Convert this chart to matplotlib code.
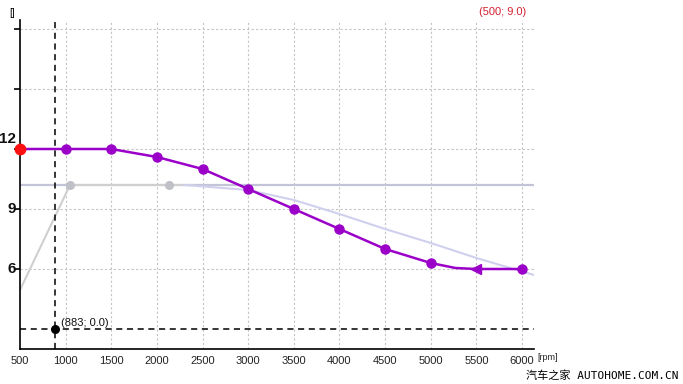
import matplotlib
matplotlib.use("Agg")
import matplotlib.pyplot as plt
from matplotlib import transforms

# courbe principale (violet)
rpm = [500, 1000, 1500, 2000, 2500, 3000, 3500, 4000, 4500, 5000, 5270, 5500, 6000]
val = [12.0, 12.0, 12.0, 11.6, 11.0, 10.0, 9.0, 8.0, 7.0, 6.3, 6.05, 6.0, 6.0]
rpm_pts = [1000, 1500, 2000, 2500, 3000, 3500, 4000, 4500, 5000, 6000]
val_pts = [12.0, 12.0, 11.6, 11.0, 10.0, 9.0, 8.0, 7.0, 6.3, 6.0]

# courbes de reference (gris / lavande)
ref_flat = 10.2
gris_rpm = [500, 1048, 2132, 2400]
gris_val = [4.95, 10.2, 10.2, 10.2]
gris_pts_rpm = [1048, 2132]
gris_pts_val = [10.2, 10.2]
lav_rpm = [2300, 3000, 3500, 4000, 4500, 5000, 5500, 6131]
lav_val = [10.2, 9.95, 9.45, 8.75, 8.0, 7.3, 6.55, 5.7]

# curseurs
cur_x, cur_y = 883, 3.0
xticks = list(range(500, 6001, 500))
yticks = [6, 9, 12]
ygrid = [6, 9, 12, 15, 18]

plt.rcParams['font.family'] = ['Liberation Sans', 'DejaVu Sans']

fig = plt.figure(figsize=(6.83, 3.84), dpi=100)
ax = fig.add_axes([20/683, 1-349/384, 514/683, 329/384])
ax.set_xlim(500, 6131)
ax.set_ylim(2, 18.45)

for s in ['top', 'right']:
    ax.spines[s].set_visible(False)
ax.spines['left'].set_linewidth(1.2)
ax.spines['bottom'].set_linewidth(1.2)

# grille pointillee
for x in xticks[1:]:
    ax.axvline(x, color='#c4c4c4', lw=0.8, ls=(0, (2, 2)), zorder=1)
for y in ygrid:
    ax.axhline(y, color='#c4c4c4', lw=0.8, ls=(0, (2, 2)), zorder=1)

ax.set_xticks(xticks)
ax.set_xticklabels([str(x) for x in xticks], fontsize=8, color='#222222')
ax.tick_params(axis='x', length=0, pad=5)
ax.set_yticks(ygrid)
ax.set_yticklabels([])
ax.tick_params(axis='y', length=4, width=1.2, direction='out')

# libelles y (12 un peu plus haut)
tr = transforms.blended_transform_factory(ax.transAxes, ax.transData)
for y in yticks:
    dy = 0.5 if y == 12 else 0.0
    ax.text(-0.008, y + dy, str(y), transform=tr, ha='right', va='center',
            fontsize=11, fontweight='bold', color='#111111')

# references
ax.axhline(ref_flat, color='#c4c4d8', lw=1.6, zorder=2)
ax.plot(gris_rpm, gris_val, color='#cfcfcf', lw=1.5, zorder=2)
ax.plot(gris_pts_rpm, gris_pts_val, 'o', color='#c0c0c8', ms=5.5, zorder=3)
ax.plot(lav_rpm, lav_val, color='#d0d0ee', lw=1.5, zorder=2)

# courbe principale
ax.plot(rpm, val, color='#9a00c8', lw=1.8, zorder=4)
ax.plot(rpm_pts, val_pts, 'o', color='#9a00c8', ms=6.5, zorder=5, clip_on=False)
ax.plot([5500], [6.0], marker='<', color='#9a00c8', ms=6.5, zorder=5)
ax.plot([500], [12.0], 'o', color='#ff1010', ms=7.5, zorder=6, clip_on=False)

# curseurs
ax.axvline(cur_x, color='black', lw=1.1, ls=(0, (4, 3)), zorder=6)
ax.axhline(cur_y, color='black', lw=1.1, ls=(0, (4, 3)), zorder=6)
ax.plot([cur_x], [cur_y], 'o', color='black', ms=5.5, zorder=7)
ax.annotate('(883; 0.0)', (cur_x, cur_y), xytext=(4, 2), textcoords='offset points',
            fontsize=8, color='#111111')

fig.text(503/683, 1-12/384, '(500; 9.0)', color='#d42030', fontsize=8, ha='center', va='center')
fig.text(12/683, 1-13/384, '[]', fontsize=7, ha='center', va='center')
fig.text(537/683, 1-358/384, '[rpm]', fontsize=6.5, ha='left', va='center', color='#222222')
fig.text(678/683, 1-376/384, '汽车之家 AUTOHOME.COM.CN', fontsize=8, ha='right', va='center',
         family=['DejaVu Sans Mono', 'Noto Sans CJK SC'])

fig.savefig('out.png', dpi=100)
